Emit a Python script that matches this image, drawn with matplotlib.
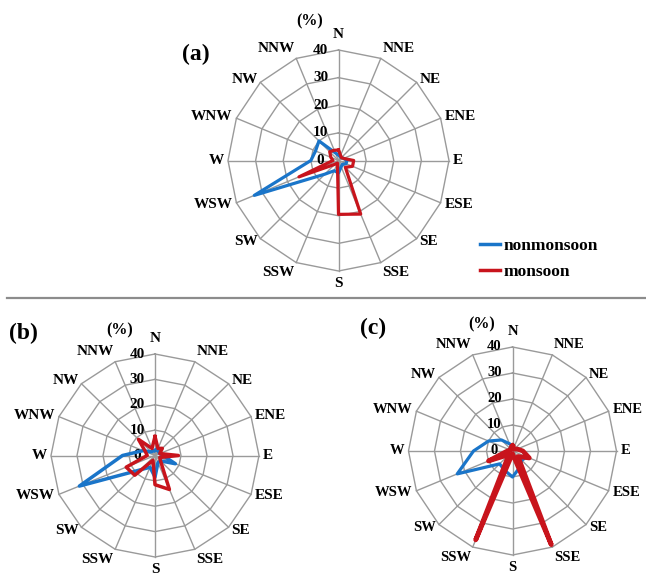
import numpy as np
import matplotlib
matplotlib.use('Agg')
import matplotlib.pyplot as plt
from matplotlib.lines import Line2D

directions = ['N', 'NNE', 'NE', 'ENE', 'E', 'ESE', 'SE', 'SSE',
              'S', 'SSW', 'SW', 'WSW', 'W', 'WNW', 'NW', 'NNW']
radial_ticks = [0, 10, 20, 30, 40]

a_nonmonsoon = [2, 1.5, 1.5, 2, 3, 3, 2, 2.5, 4.5, 4, 7, 33, 10, 9, 10, 3]
a_monsoon = [3.8, 2, 1.5, 2, 5.5, 5.5, 3.5, 21, 19.5, 1, 2, 15.5, 2, 3, 4.5, 4]

b_nonmonsoon = [2, 3, 2, 2, 3, 8.5, 3, 3, 8.5, 5, 8, 31.5, 12.5, 5, 2, 2]
b_monsoon = [7.5, 3, 4, 2, 9, 2, 3, 14.5, 11.5, 2, 11, 12, 3, 4, 9, 3]

c_nonmonsoon = [2, 1.5, 1, 2, 4, 6, 5, 7, 10, 8, 7, 23, 15, 10, 6, 3]
c_monsoon = [2, 1, 1, 2, 4, 7, 3, 39, 1, 37, 2, 10, 2, 1, 1, 1.5]

BLUE = '#1a75c9'
RED = '#c8141c'
GRID = '#9a9a9a'
W, H = 646, 576
PT = 0.72  # points per pixel at dpi 100

fig = plt.figure(figsize=(W / 100, H / 100), dpi=100)
fig.patch.set_facecolor('white')
serif = 'Liberation Serif'


def closed(v):
    return list(v) + [v[0]]


def radar(cx, cy, rx, ry, non, mon, lw_non, lw_mon, fs):
    ax = fig.add_axes([(cx - rx) / W, (H - cy - ry) / H, 2 * rx / W, 2 * ry / H],
                      projection='polar')
    ax.set_aspect('auto')
    ax.set_theta_zero_location('N')
    ax.set_theta_direction(-1)
    ax.set_ylim(0, radial_ticks[-1])
    ax.grid(False)
    ax.set_xticks([])
    ax.set_yticks([])
    ax.spines['polar'].set_visible(False)
    ax.patch.set_alpha(0)
    n = len(directions)
    theta = np.deg2rad(np.arange(n) * 360.0 / n)
    th_c = closed(theta)
    rmax = radial_ticks[-1]
    for r in radial_ticks[1:]:
        ax.plot(th_c, [r] * (n + 1), color=GRID, lw=1.0, clip_on=False, zorder=1)
    for t in theta:
        ax.plot([t, t], [0, rmax], color=GRID, lw=1.0, clip_on=False, zorder=1)
    ax.plot(th_c, closed(non), color=BLUE, lw=lw_non, clip_on=False, zorder=3,
            solid_joinstyle='round', label='nonmonsoon')
    ax.plot(th_c, closed(mon), color=RED, lw=lw_mon, clip_on=False, zorder=4,
            solid_joinstyle='round', label='monsoon')
    # direction labels
    for t, lab in zip(theta, directions):
        s, c = np.sin(t), np.cos(t)
        ha = 'left' if s > 0.3 else ('right' if s < -0.3 else 'center')
        va = 'bottom' if c > 0.8 else ('top' if c < -0.8 else 'center')
        off = 4.0
        if lab == 'N':
            off = 9.0
        elif lab == 'S':
            off = 6.0
        ax.annotate(lab, xy=(t, rmax), xytext=(off * s * PT, off * c * PT),
                    textcoords='offset points', ha=ha, va=va, fontsize=fs,
                    fontweight='bold', family=serif, annotation_clip=False)
    # radial labels
    for r in radial_ticks:
        ax.annotate(str(r), xy=(0, r), xytext=(-18 * PT, 0), textcoords='offset points',
                    ha='center', va='center', fontsize=fs, fontweight='bold',
                    family=serif, annotation_clip=False, zorder=2)
    return ax


ax_a = radar(338.5, 160.5, 110.5, 110.5, a_nonmonsoon, a_monsoon, 2.3, 2.3, 11)
ax_b = radar(155, 455.5, 104, 101.5, b_nonmonsoon, b_monsoon, 2.5, 2.5, 11)
ax_c = radar(512.5, 451, 104, 104, c_nonmonsoon, c_monsoon, 2.3, 3.4, 10.5)

# panel labels
for txt, x, y, fs in [('(a)', 196, 54, 17), ('(b)', 23, 333, 17), ('(c)', 373, 328, 17)]:
    fig.text(x / W, 1 - y / H, txt, ha='center', va='center', fontsize=fs,
             fontweight='bold', family=serif)
for x, y in [(310, 21), (120, 330), (482, 324)]:
    fig.text(x / W, 1 - y / H, '(%)', ha='center', va='center', fontsize=11.5,
             fontweight='bold', family=serif)

# separator line
fig.add_artist(Line2D([7 / W, 1.0], [1 - 298 / H, 1 - 298 / H], transform=fig.transFigure,
                      color='#8c8c8c', lw=1.6))

# legend
handles, labels = ax_a.get_legend_handles_labels()
leg = fig.legend(handles, labels, loc='upper left', bbox_to_anchor=(480 / W, 1 - 238 / H),
                 frameon=False, handlelength=1.15, handletextpad=0.2, labelspacing=0.55,
                 borderpad=0, borderaxespad=0,
                 prop={'family': serif, 'weight': 'bold', 'size': 12.5})
for line in leg.get_lines():
    line.set_linewidth(2.5)

fig.savefig('out.png', dpi=100)
